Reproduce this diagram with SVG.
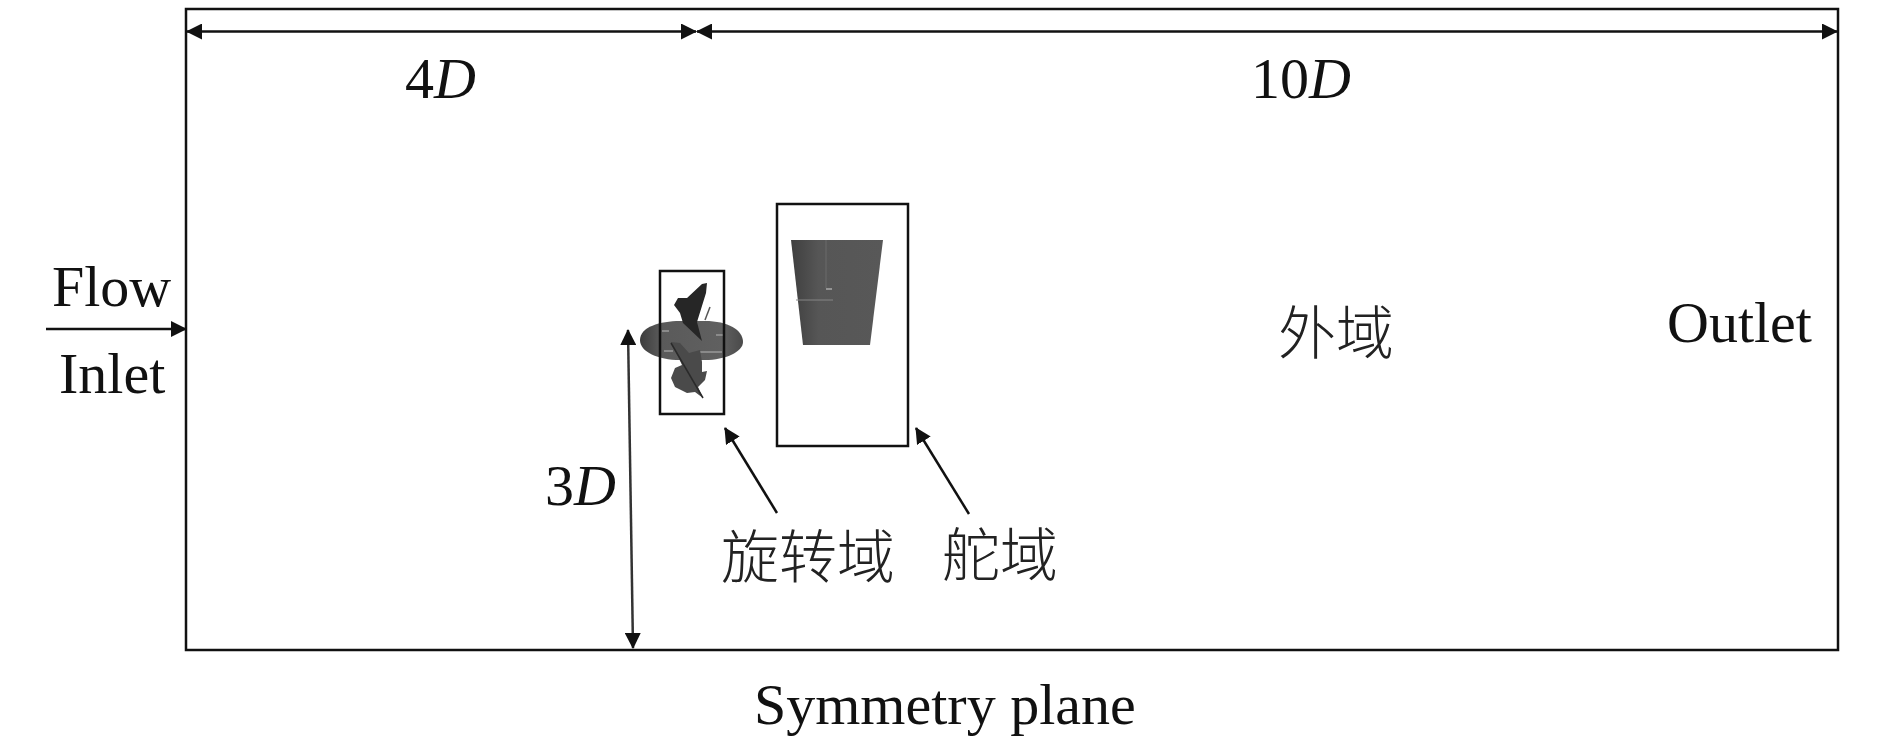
<svg xmlns="http://www.w3.org/2000/svg" width="1890" height="742" viewBox="0 0 1890 742">
<style>
.t{font-family:"Liberation Serif","Noto Sans CJK SC",serif;font-size:58px;fill:#111}
.c{font-family:"Noto Sans CJK SC","Liberation Serif",serif;font-size:58px;fill:#222;font-weight:300}
.box{fill:none;stroke:#111;stroke-width:2.5}
.ln{fill:none;stroke:#111;stroke-width:2.5}
.ar{marker-end:url(#a)}
.dim{marker-start:url(#a);marker-end:url(#a)}
</style>
<defs>
<marker id="a" viewBox="0 0 16 16" refX="15" refY="8" markerWidth="16" markerHeight="16" markerUnits="userSpaceOnUse" orient="auto-start-reverse"><path d="M0 0L16 8L0 16Z" fill="#111"/></marker>
<linearGradient id="r" x1="0" x2="1" y1="0" y2="0"><stop offset="0" stop-color="#3f3f3f"/><stop offset=".3" stop-color="#565656"/><stop offset="1" stop-color="#585858"/></linearGradient>
<linearGradient id="h" x1="0" x2="1" y1="0" y2="0"><stop offset="0" stop-color="#3c3c3c"/><stop offset=".2" stop-color="#5a5a5a"/><stop offset=".8" stop-color="#606060"/><stop offset="1" stop-color="#4a4a4a"/></linearGradient>
</defs>
<rect width="1890" height="742" fill="#fff"/>
<g id="domain"><rect class="box" x="186" y="9" width="1652" height="641"/></g>
<g id="propeller">
<path d="M640 340C640 327 660 321 680 321L705 321C728 321 743 330 743 342C743 352 725 360 705 360L680 360C658 360 640 352 640 340Z" fill="url(#h)"/>
<path d="M662 331H669M716 335H724M664 351H673M697 352H722" stroke="#8a8a8a" stroke-width="2" fill="none"/>
<path d="M671 342L680 343L689 353L700 350L702 362L702 372L707 371L705 380L698 387L703 398L695 392L687 393L675 387L671 378L675 368L682 365Z" fill="#4a4a4a"/>
<path d="M671 343L703 398" stroke="#2a2a2a" stroke-width="1.5" fill="none"/>
<path d="M707 283L702 284L687 298L678 298L674 305L680 313L683 323L702 341L697 322L706 293Z" fill="#262626"/>
<path d="M710 307L705 320" stroke="#555" stroke-width="1.5"/>
</g>
<g id="rotating-domain"><rect class="box" x="660" y="271" width="64" height="143"/></g>
<g id="rudder">
<path d="M791 240H883L870 345H803Z" fill="url(#r)"/>
<path d="M826 240V288" stroke="#6b6b6b" stroke-width="1"/>
<path d="M796 300H833" stroke="#858585" stroke-width="1"/>
<path d="M826 289H832" stroke="#aaa" stroke-width="1.5"/>
</g>
<g id="rudder-domain"><rect class="box" x="777" y="204" width="131" height="242"/></g>
<g id="connectors">
<line class="ln dim" x1="187" y1="31.5" x2="696" y2="31.5"/>
<line class="ln dim" x1="697" y1="31.5" x2="1837" y2="31.5"/>
<line class="ln ar" x1="46" y1="329" x2="186" y2="329"/>
<line class="ln dim" x1="628" y1="330" x2="633" y2="648" style="stroke:#333"/>
<line class="ln ar" x1="777" y1="513" x2="725" y2="428"/>
<line class="ln ar" x1="969" y1="514" x2="916" y2="428"/>
</g>
<g id="labels">
<text class="t" x="405" y="98">4<tspan font-style="italic">D</tspan></text>
<text class="t" x="1251" y="98">10<tspan font-style="italic">D</tspan></text>
<text class="t" x="52" y="306">Flow</text>
<text class="t" x="59" y="393">Inlet</text>
<text class="t" x="1667" y="342">Outlet</text>
<text class="t" x="545" y="505">3<tspan font-style="italic">D</tspan></text>
<text class="t" x="754" y="724">Symmetry plane</text>
<text class="c" x="1278" y="354">外域</text>
<text class="c" x="721" y="578">旋转域</text>
<text class="c" x="942" y="576">舵域</text>
</g>
</svg>
